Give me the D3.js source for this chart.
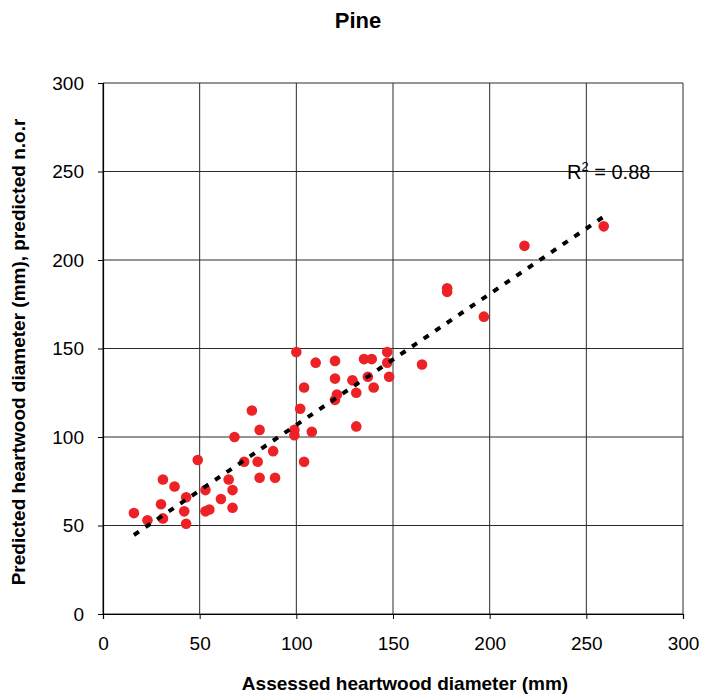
<!DOCTYPE html>
<html>
<head>
<meta charset="utf-8">
<script src="https://cdn.jsdelivr.net/npm/d3@7"></script>
<style>
  body { margin: 0; background: #fff; }
  text { font-family: "Liberation Sans", Arial, sans-serif; fill: #000; }
</style>
</head>
<body>
<div id="scatter"></div>
<script>
// chart data
let assessed = [16, 23, 31, 30, 31, 37, 42, 43, 43, 49, 53, 55, 53, 61, 65, 67, 67, 68, 73, 77,
  80, 81, 81, 88, 89, 100, 99, 99, 104, 102, 104, 108, 110, 120, 120, 120, 121, 129, 131, 131,
  135, 137, 139, 140, 147, 147, 148, 165, 178, 178, 197, 218, 259];
let predicted = [57, 53, 76, 62, 54, 72, 58, 66, 51, 87, 58, 59, 70, 65, 76, 60, 70, 100, 86, 115,
  86, 104, 77, 92, 77, 148, 101, 104, 86, 116, 128, 103, 142, 143, 133, 121, 124, 132, 106, 125,
  144, 134, 144, 128, 148, 142, 134, 141, 184, 182, 168, 208, 219];

// trend line (dotted) and its R squared
let trendX = [16, 259];
let trendSlope = 0.74;
let trendIntercept = 32.8;
let rSquared = "0.88";

let xTicks = [0, 50, 100, 150, 200, 250, 300];
let yTicks = [0, 50, 100, 150, 200, 250, 300];

let svgWidth = 704;
let svgHeight = 697;

let margin = { top: 83, right: 21, bottom: 83, left: 103 };
let width = svgWidth - margin.left - margin.right;
let height = svgHeight - margin.top - margin.bottom;

let svg = d3.select("#scatter")
  .append("svg")
  .attr("width", svgWidth)
  .attr("height", svgHeight);

let chartGroup = svg.append("g")
  .attr("transform", `translate(${margin.left}, ${margin.top})`);

let xScale = d3.scaleLinear().domain([0, 300]).range([0, width]);
let yScale = d3.scaleLinear().domain([0, 300]).range([height, 0]);

// grid lines
chartGroup.append("g")
  .selectAll("line")
  .data(xTicks)
  .enter()
  .append("line")
  .attr("x1", d => xScale(d)).attr("x2", d => xScale(d))
  .attr("y1", 0).attr("y2", height)
  .attr("stroke", "#2a2a2a")
  .attr("stroke-width", 1);

chartGroup.append("g")
  .selectAll("line")
  .data(yTicks)
  .enter()
  .append("line")
  .attr("x1", 0).attr("x2", width)
  .attr("y1", d => yScale(d)).attr("y2", d => yScale(d))
  .attr("stroke", "#2a2a2a")
  .attr("stroke-width", 1);

// axes
let bottomAxis = d3.axisBottom(xScale).tickValues(xTicks).tickSize(5).tickPadding(18);
let leftAxis = d3.axisLeft(yScale).tickValues(yTicks).tickSize(5).tickPadding(14);

let xAxis = chartGroup.append("g")
  .attr("transform", `translate(0, ${height})`)
  .call(bottomAxis);

let yAxis = chartGroup.append("g")
  .call(leftAxis);

[xAxis, yAxis].forEach(function(ax) {
  ax.select(".domain").attr("stroke", "#000").attr("stroke-width", 1.2);
  ax.selectAll(".tick line").attr("stroke", "#000");
  ax.selectAll(".tick text")
    .attr("font-size", 19)
    .attr("font-family", "Liberation Sans, Arial, sans-serif")
    .attr("fill", "#000");
});

// points
chartGroup.append("g")
  .selectAll("circle")
  .data(assessed)
  .enter()
  .append("circle")
  .attr("cx", d => xScale(d))
  .attr("cy", (d, i) => yScale(predicted[i]))
  .attr("r", 5.3)
  .attr("fill", "#ec2227");

// trend line
let trendLine = d3.line()
  .x(d => xScale(d))
  .y(d => yScale(trendIntercept + trendSlope * d));

chartGroup.append("path")
  .datum(trendX)
  .attr("d", trendLine)
  .attr("fill", "none")
  .attr("stroke", "#000")
  .attr("stroke-width", 4)
  .attr("stroke-dasharray", "6,8");

// R squared label
let rLabel = chartGroup.append("text")
  .attr("x", xScale(240))
  .attr("y", yScale(246))
  .attr("font-size", 20);
rLabel.append("tspan").text("R");
rLabel.append("tspan").attr("dy", -8).attr("font-size", 13).text("2");
rLabel.append("tspan").attr("dy", 8).text(" = " + rSquared);

// title and axis labels
svg.append("text")
  .attr("x", 358)
  .attr("y", 28)
  .attr("text-anchor", "middle")
  .attr("font-size", 22)
  .attr("font-weight", "bold")
  .text("Pine");

svg.append("text")
  .attr("x", 405)
  .attr("y", 690)
  .attr("text-anchor", "middle")
  .attr("font-size", 19)
  .attr("font-weight", "bold")
  .text("Assessed heartwood diameter (mm)");

svg.append("text")
  .attr("transform", "translate(25, 352) rotate(-90)")
  .attr("text-anchor", "middle")
  .attr("font-size", 19)
  .attr("font-weight", "bold")
  .text("Predicted heartwood diameter (mm), predicted n.o.r");
</script>
</body>
</html>
